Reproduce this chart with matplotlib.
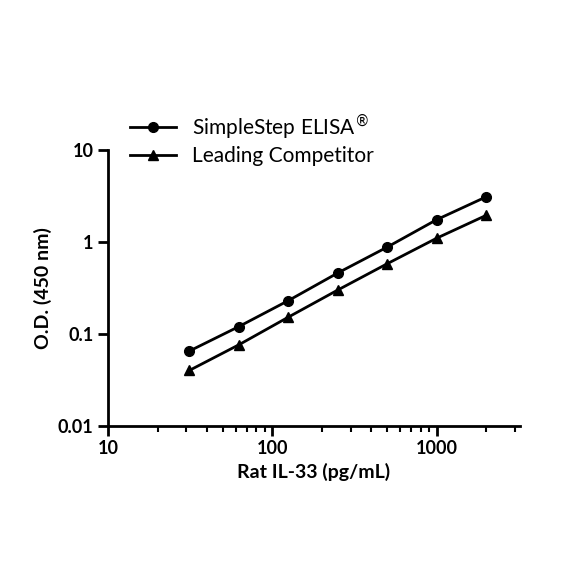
import matplotlib
matplotlib.use("Agg")
import matplotlib.pyplot as plt
from matplotlib.ticker import FixedLocator, NullFormatter, LogLocator

conc = [31.25, 62.5, 125, 250, 500, 1000, 2000]
simplestep = [0.065, 0.12, 0.23, 0.46, 0.88, 1.75, 3.1]
competitor = [0.040, 0.076, 0.152, 0.30, 0.58, 1.10, 1.95]
xticks = [10, 100, 1000]
xticklabels = ["10", "100", "1000"]
yticks = [0.01, 0.1, 1, 10]
yticklabels = ["0.01", "0.1", "1", "10"]

plt.rcParams['font.family'] = ['Lato', 'DejaVu Sans']
fig = plt.figure(figsize=(5.84, 5.84), dpi=100)
ax = fig.add_axes([0.185, 0.271, 0.705, 0.472])
l1, = ax.plot(conc, simplestep, '-o', color='black', lw=2, ms=7)
l2, = ax.plot(conc, competitor, '-^', color='black', lw=2, ms=7)
ax.set_xscale('log'); ax.set_yscale('log')
ax.set_xlim(10, 3200); ax.set_ylim(0.01, 10)
ax.set_xticks(xticks); ax.set_xticklabels(xticklabels)
ax.set_yticks(yticks); ax.set_yticklabels(yticklabels)
ax.xaxis.set_minor_locator(LogLocator(base=10, subs=range(2, 10)))
ax.xaxis.set_minor_formatter(NullFormatter())
ax.yaxis.set_minor_locator(FixedLocator([]))
for s in ['top', 'right']:
    ax.spines[s].set_visible(False)
for s in ['left', 'bottom']:
    ax.spines[s].set_linewidth(2)
ax.tick_params(which='major', width=2, length=7, labelsize=13)
ax.tick_params(which='minor', width=1.5, length=4)
for t in ax.get_xticklabels() + ax.get_yticklabels():
    t.set_fontweight('bold')
ax.set_xlabel('Rat IL-33 (pg/mL)', fontsize=14, fontweight='bold')
ax.set_ylabel('O.D. (450 nm)', fontsize=14, fontweight='bold')
fig.legend([l1, l2], ['SimpleStep ELISA$^{®}$', 'Leading Competitor'],
           loc='upper left', bbox_to_anchor=(0.19, 0.84), frameon=False,
           fontsize=15, handlelength=2.2, labelspacing=0.2)
fig.savefig('out.png', dpi=100)
